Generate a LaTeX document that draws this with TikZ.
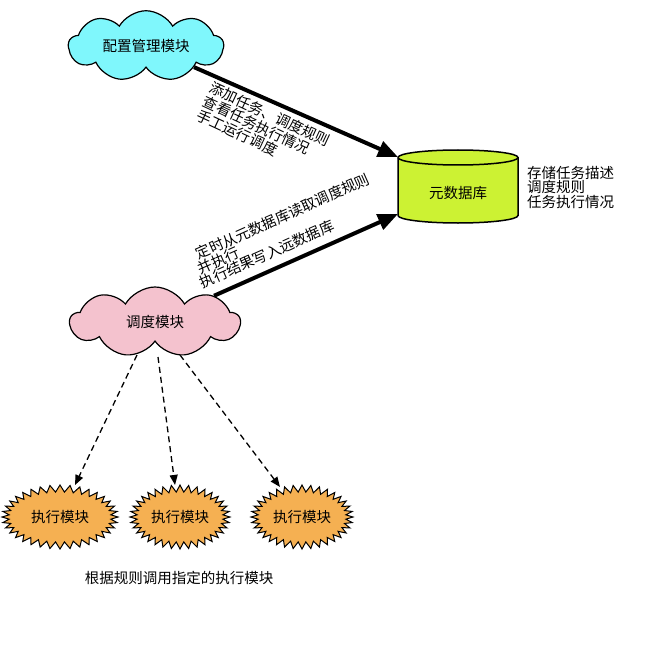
\documentclass[tikz,border=0pt]{standalone}
\usepackage{fontspec}
\setmainfont{Noto Sans CJK SC}
\usetikzlibrary{shapes.symbols,arrows.meta}
\definecolor{cfgc}{RGB}{127,247,252}
\definecolor{schc}{RGB}{244,194,206}
\definecolor{dbc}{RGB}{204,242,51}
\definecolor{exc}{RGB}{245,176,82}
\begin{document}
\begin{tikzpicture}[x=1pt,y=-1pt,
  font=\fontsize{14.5}{15}\selectfont,
  cloudbox/.style={cloud, draw=black, line width=1.2pt, cloud puffs=9, cloud puff arc=120, aspect=2.5, inner sep=0pt},
  burst/.style={starburst, draw=black, line width=1pt, fill=exc, starburst points=36, starburst point height=7pt, random starburst=0, inner sep=0pt, minimum height=64pt},
  bigarrow/.style={line width=4pt, -{Triangle[length=20pt,width=16pt]}},
  dasharrow/.style={line width=1.3pt, dash pattern=on 6pt off 4pt, -{Triangle[length=10pt,width=8pt]}},
  lbl/.style={inner sep=0pt, align=left, font=\fontsize{14.5}{15}\selectfont}
]
\useasboundingbox (0,0) rectangle (671,655);

% config cloud
\node[cloudbox, fill=cfgc, minimum width=155pt, minimum height=60pt] (cfg) at (146,46) {配置管理模块};

% metadata cylinder
\filldraw[fill=dbc, draw=black, line width=1.5pt]
  (398,157.5) -- (398,215.5) arc[start angle=180, end angle=360, x radius=60pt, y radius=7.5pt]
  -- (518,157.5) arc[start angle=0, end angle=180, x radius=60pt, y radius=7.5pt] -- cycle;
\draw[line width=1.5pt] (398,157.5) arc[start angle=180, end angle=360, x radius=60pt, y radius=7.5pt];
\node[inner sep=0pt] (db) at (458,193) {元数据库};
\coordinate (dbA) at (398,157);
\coordinate (dbB) at (398,214);
\node[lbl, anchor=north west, font=\fontsize{14.5}{14.5}\selectfont] (dbnote) at (527,166) {存储任务描述\\调度规则\\任务执行情况};

% scheduler cloud
\node[cloudbox, fill=schc, minimum width=170pt, minimum height=70pt] (sch) at (155,322) {调度模块};

% executors
\node[burst, minimum width=116pt] (ex1) at (60,517) {执行模块};
\node[burst, minimum width=100pt] (ex2) at (180,517) {执行模块};
\node[burst, minimum width=102pt] (ex3) at (302,517) {执行模块};

\node[inner sep=0pt] (note) at (179,578) {根据规则调用指定的执行模块};

% arrows
\draw[bigarrow] (cfg) -- (dbA);
\draw[bigarrow] (sch) -- (dbB);

\node[lbl, anchor=north west, rotate=-25, font=\fontsize{14.5}{15.2}\selectfont] (l1) at (213.5,80.5) {添加任务、调度规则\\查看任务执行情况\\手工运行调度};
\node[lbl, anchor=north west, rotate=24, font=\fontsize{14.5}{14}\selectfont] (l2) at (193.5,248.5) {定时从元数据库读取调度规则\\\hspace*{-4pt}并执行\\\hspace*{-8pt}执行结果写入远数据库};

\coordinate (s1) at (137,355);
\coordinate (s2) at (158,357);
\coordinate (s3) at (180,355);
\draw[dasharrow] (s1) -- ([xshift=15pt,yshift=-1pt]ex1.north);
\draw[dasharrow] (s2) -- ([xshift=-5pt,yshift=-1pt]ex2.north);
\draw[dasharrow] (s3) -- ([xshift=-22pt,yshift=-3pt]ex3.north);
\end{tikzpicture}
\end{document}
